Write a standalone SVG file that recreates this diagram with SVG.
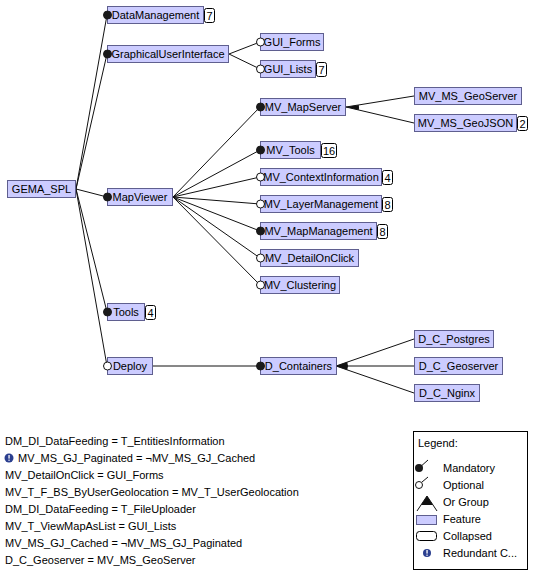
<svg xmlns="http://www.w3.org/2000/svg" width="534" height="576" viewBox="0 0 534 576">
<style>
text{font-family:"Liberation Sans",Arial,sans-serif;font-size:11px;fill:#000}
.f{fill:#CCCCFF;stroke:#5F5F8F;stroke-width:1}
.b{fill:#fff;stroke:#000;stroke-width:1}
.c line{stroke:#111;stroke-width:1}
.m{fill:#1a1a1a;stroke:#1a1a1a}
.o{fill:#fff;stroke:#111}
.w{fill:#111}
.t{text-anchor:middle}
</style>
<rect width="534" height="576" fill="#fff"/>
<g id="connectors" class="c">
<line x1="76" y1="189" x2="107" y2="15"/>
<line x1="76" y1="189" x2="107" y2="54"/>
<line x1="76" y1="189" x2="107" y2="197"/>
<line x1="76" y1="189" x2="107" y2="312"/>
<line x1="76" y1="189" x2="107" y2="366"/>
<line x1="229" y1="54" x2="260" y2="42"/>
<line x1="229" y1="54" x2="260" y2="69"/>
<line x1="173" y1="197" x2="260" y2="107"/>
<line x1="173" y1="197" x2="260" y2="150"/>
<line x1="173" y1="197" x2="260" y2="177"/>
<line x1="173" y1="197" x2="260" y2="204"/>
<line x1="173" y1="197" x2="260" y2="231"/>
<line x1="173" y1="197" x2="260" y2="258"/>
<line x1="173" y1="197" x2="260" y2="285"/>
<line x1="346" y1="107" x2="414" y2="96"/>
<line x1="346" y1="107" x2="414" y2="123"/>
<line x1="152" y1="366" x2="260" y2="366"/>
<line x1="336" y1="366" x2="414" y2="339"/>
<line x1="336" y1="366" x2="414" y2="366"/>
<line x1="336" y1="366" x2="414" y2="393"/>
</g>
<g id="GEMA_SPL"><rect class="f" x="7.5" y="180.5" width="68" height="17"/><text class="t" x="41.5" y="193">GEMA_SPL</text></g>
<g id="DataManagement"><rect class="f" x="107.5" y="6.5" width="96" height="17"/><text class="t" x="155.5" y="19">DataManagement</text><rect class="b" x="204.5" y="8.5" width="10" height="14" rx="2"/><text class="t" x="209.5" y="19.5">7</text></g>
<g id="GraphicalUserInterface"><rect class="f" x="107.5" y="45.5" width="121" height="17"/><text class="t" x="168" y="58">GraphicalUserInterface</text></g>
<g id="MapViewer"><rect class="f" x="107.5" y="188.5" width="65" height="17"/><text class="t" x="140" y="201">MapViewer</text></g>
<g id="Tools"><rect class="f" x="107.5" y="303.5" width="37" height="17"/><text class="t" x="126" y="316">Tools</text><rect class="b" x="145.5" y="305.5" width="10" height="14" rx="2"/><text class="t" x="150.5" y="316.5">4</text></g>
<g id="Deploy"><rect class="f" x="107.5" y="357.5" width="45" height="17"/><text class="t" x="130" y="370">Deploy</text></g>
<g id="GUI_Forms"><rect class="f" x="260.5" y="33.5" width="63" height="17"/><text class="t" x="292" y="46">GUI_Forms</text></g>
<g id="GUI_Lists"><rect class="f" x="260.5" y="60.5" width="55" height="17"/><text class="t" x="288" y="73">GUI_Lists</text><rect class="b" x="316.5" y="62.5" width="10" height="14" rx="2"/><text class="t" x="321.5" y="73.5">7</text></g>
<g id="MV_MapServer"><rect class="f" x="260.5" y="98.5" width="85" height="17"/><text class="t" x="303" y="111">MV_MapServer</text></g>
<g id="MV_Tools"><rect class="f" x="260.5" y="141.5" width="60" height="17"/><text class="t" x="290.5" y="154">MV_Tools</text><rect class="b" x="321.5" y="143.5" width="15" height="14" rx="2"/><text class="t" x="329" y="154.5">16</text></g>
<g id="MV_ContextInformation"><rect class="f" x="260.5" y="168.5" width="121" height="17"/><text class="t" x="321" y="181">MV_ContextInformation</text><rect class="b" x="382.5" y="170.5" width="10" height="14" rx="2"/><text class="t" x="387.5" y="181.5">4</text></g>
<g id="MV_LayerManagement"><rect class="f" x="260.5" y="195.5" width="121" height="17"/><text class="t" x="321" y="208">MV_LayerManagement</text><rect class="b" x="382.5" y="197.5" width="10" height="14" rx="2"/><text class="t" x="387.5" y="208.5">8</text></g>
<g id="MV_MapManagement"><rect class="f" x="260.5" y="222.5" width="116" height="17"/><text class="t" x="318.5" y="235">MV_MapManagement</text><rect class="b" x="377.5" y="224.5" width="10" height="14" rx="2"/><text class="t" x="382.5" y="235.5">8</text></g>
<g id="MV_DetailOnClick"><rect class="f" x="260.5" y="249.5" width="98" height="17"/><text class="t" x="309.5" y="262">MV_DetailOnClick</text></g>
<g id="MV_Clustering"><rect class="f" x="260.5" y="276.5" width="79" height="17"/><text class="t" x="300" y="289">MV_Clustering</text></g>
<g id="D_Containers"><rect class="f" x="260.5" y="357.5" width="76" height="17"/><text class="t" x="298.5" y="370">D_Containers</text></g>
<g id="MV_MS_GeoServer"><rect class="f" x="414.5" y="87.5" width="107" height="17"/><text class="t" x="468" y="100">MV_MS_GeoServer</text></g>
<g id="MV_MS_GeoJSON"><rect class="f" x="414.5" y="114.5" width="102" height="17"/><text class="t" x="465.5" y="127">MV_MS_GeoJSON</text><rect class="b" x="517.5" y="116.5" width="10" height="14" rx="2"/><text class="t" x="522.5" y="127.5">2</text></g>
<g id="D_C_Postgres"><rect class="f" x="414.5" y="330.5" width="79" height="17"/><text class="t" x="454" y="343">D_C_Postgres</text></g>
<g id="D_C_Geoserver"><rect class="f" x="414.5" y="357.5" width="88" height="17"/><text class="t" x="458.5" y="370">D_C_Geoserver</text></g>
<g id="D_C_Nginx"><rect class="f" x="414.5" y="384.5" width="65" height="17"/><text class="t" x="447" y="397">D_C_Nginx</text></g>
<g id="connector-ends">
<circle class="m" cx="107.5" cy="15" r="4"/>
<circle class="m" cx="107.5" cy="54" r="4"/>
<circle class="m" cx="107.5" cy="197" r="4"/>
<circle class="m" cx="107.5" cy="312" r="4"/>
<circle class="o" cx="107.5" cy="366" r="4"/>
<circle class="o" cx="260.5" cy="42" r="4"/>
<circle class="o" cx="260.5" cy="69" r="4"/>
<circle class="m" cx="260.5" cy="107" r="4"/>
<circle class="m" cx="260.5" cy="150" r="4"/>
<circle class="o" cx="260.5" cy="177" r="4"/>
<circle class="o" cx="260.5" cy="204" r="4"/>
<circle class="m" cx="260.5" cy="231" r="4"/>
<circle class="o" cx="260.5" cy="258" r="4"/>
<circle class="o" cx="260.5" cy="285" r="4"/>
<circle class="m" cx="260.5" cy="366" r="4"/>
<path class="w" d="M346 107 L358.8 104.9 A13 13 0 0 1 358.7 110 Z"/>
<path class="w" d="M336 366 L347.3 362.1 A12 12 0 0 1 347.3 369.9 Z"/>
</g>
<g id="constraints">
<text x="5" y="445">DM_DI_DataFeeding = T_EntitiesInformation</text>
<circle cx="9" cy="458" r="4.5" fill="#2B3F8F"/><rect x="8.4" y="455" width="1.3" height="3.6" fill="#fff"/><rect x="8.4" y="459.6" width="1.3" height="1.2" fill="#fff"/>
<text x="18" y="462">MV_MS_GJ_Paginated = ¬MV_MS_GJ_Cached</text>
<text x="5" y="479">MV_DetailOnClick = GUI_Forms</text>
<text x="5" y="496">MV_T_F_BS_ByUserGeolocation = MV_T_UserGeolocation</text>
<text x="5" y="513">DM_DI_DataFeeding = T_FileUploader</text>
<text x="5" y="530">MV_T_ViewMapAsList = GUI_Lists</text>
<text x="5" y="547">MV_MS_GJ_Cached = ¬MV_MS_GJ_Paginated</text>
<text x="5" y="564">D_C_Geoserver = MV_MS_GeoServer</text>
</g>
<g id="legend">
<rect x="413.5" y="431.5" width="114" height="138" fill="#fff" stroke="#000"/>
<text x="418" y="447">Legend:</text>
<line x1="419" y1="468" x2="428" y2="460" stroke="#111"/>
<circle cx="419" cy="468" r="4" fill="#1a1a1a"/>
<text x="443" y="472">Mandatory</text>
<line x1="422" y1="482" x2="428" y2="477" stroke="#111"/>
<circle cx="419" cy="485" r="3.5" fill="#fff" stroke="#111"/>
<text x="443" y="489">Optional</text>
<path d="M417 511 L427 496 L437 511" fill="none" stroke="#111"/>
<path d="M427 496 L421 505 L433 505 Z" fill="#111"/>
<text x="443" y="506">Or Group</text>
<rect x="416.5" y="515.5" width="20" height="9" class="f"/>
<text x="443" y="523">Feature</text>
<rect x="416.5" y="531.5" width="20" height="9" rx="3" fill="#fff" stroke="#000"/>
<text x="443" y="540">Collapsed</text>
<circle cx="427" cy="553" r="4" fill="#2B3F8F"/><rect x="426.4" y="550" width="1.3" height="3.6" fill="#fff"/><rect x="426.4" y="554.6" width="1.3" height="1.2" fill="#fff"/>
<text x="443" y="557">Redundant C...</text>
</g>
</svg>
